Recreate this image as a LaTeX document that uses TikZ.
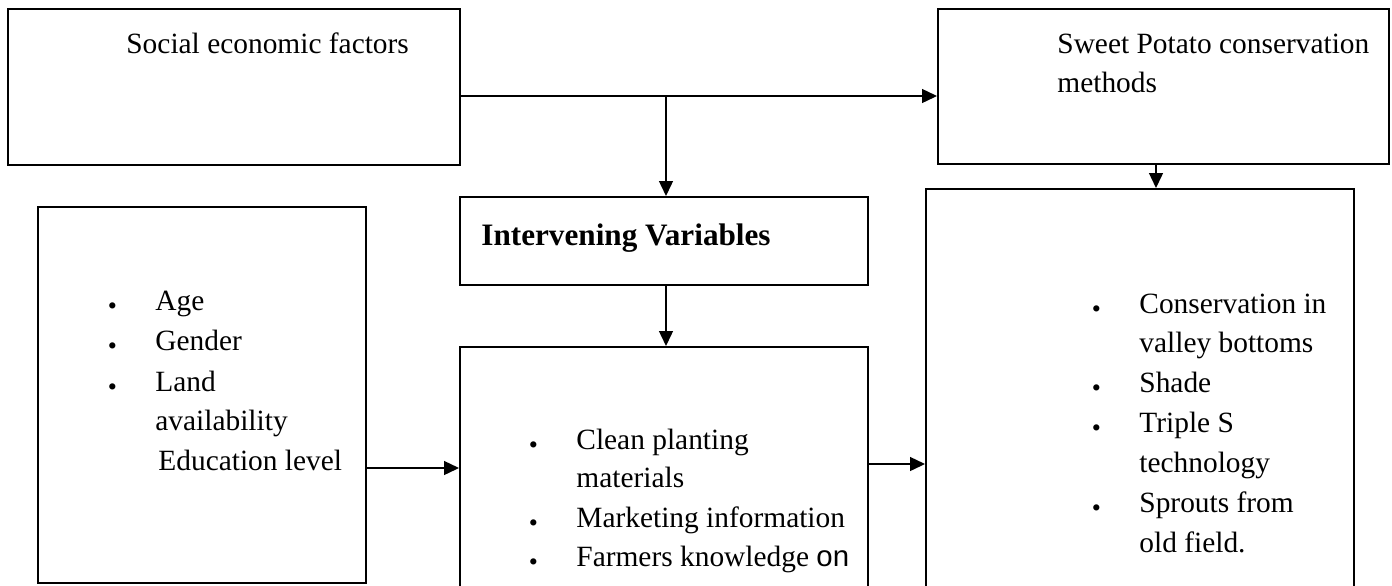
\documentclass[tikz,border=0pt]{standalone}
\usepackage{fontspec}
\setmainfont{Liberation Serif}
\newfontfamily\sansfont{Liberation Sans}
\usetikzlibrary{arrows.meta, positioning}

\newcommand{\bul}{\llap{\raisebox{-2pt}{\fontsize{13pt}{13pt}\selectfont\textbullet}\hspace{19.2pt}}}

\tikzset{
  box/.style={draw, line width=1pt, rectangle, inner sep=0pt},
  item/.style={anchor=base west, inner sep=0pt, font=\fontsize{14.7pt}{20pt}\selectfont},
  arr/.style={-{Triangle[length=7.5pt, width=7pt]}, line width=0.7pt}
}

\begin{document}
\begin{tikzpicture}[x=0.5pt, y=-0.5pt]
  \useasboundingbox (0,0) rectangle (1392,585);
  \clip (0,0) rectangle (1392,585);

  % Boxes
  \node[box, minimum width=226pt, minimum height=78pt] (social) at (234,87) {};
  \node[box, minimum width=225.5pt, minimum height=77.5pt] (sweet) at (1163.5,86.5) {};
  \node[box, minimum width=204pt, minimum height=44pt] (inter) at (664,241) {};
  \node[box, minimum width=164pt, minimum height=188pt] (left) at (202,395) {};
  \node[box, minimum width=204pt, minimum height=124pt] (mid) at (664,471) {};
  \node[box, minimum width=214pt, minimum height=205.5pt] (right) at (1140,394.5) {};

  % Box texts
  \node[item] (socialtxt) at (126,53) {Social economic factors};
  \node[item] (sweettxt) at (1057,53) {Sweet Potato conservation};
  \node[item] (sweettxt2) at (1057,92) {methods};
  \node[item, font=\fontsize{15.6pt}{20pt}\selectfont\bfseries] (intertxt) at (481,245) {Intervening Variables};

  % Independent variables
  \node[item] (age) at (155,310) {\bul Age};
  \node[item] (gender) at (155,350) {\bul Gender};
  \node[item] (land) at (155,391) {\bul Land};
  \node[item] (land2) at (155,430) {availability};
  \node[item] (educ) at (158,470) {Education level};

  % Intervening list
  \node[item] (clean) at (576,449) {\bul Clean planting};
  \node[item] (clean2) at (576,487) {materials};
  \node[item] (market) at (576,527) {\bul Marketing information};
  \node[item] (farmer) at (576,566) {\bul Farmers knowledge {\sansfont on}};

  % Conservation methods
  \node[item] (valley) at (1139,313) {\bul Conservation in};
  \node[item] (valley2) at (1139,352) {valley bottoms};
  \node[item] (shade) at (1139,392) {\bul Shade};
  \node[item] (triple) at (1139,432) {\bul Triple S};
  \node[item] (triple2) at (1139,472) {technology};
  \node[item] (sprout) at (1139,512) {\bul Sprouts from};
  \node[item] (sprout2) at (1139,552) {old field.};

  % Connectors
  \coordinate (split) at (666,96);
  \coordinate (drop) at (1156,0);
  \coordinate (inlvl) at (0,468);
  \coordinate (outlvl) at (0,464);
  \draw[arr] (social.east |- split) -- (sweet.west |- split);
  \draw[arr] (split) -- (split |- inter.north);
  \draw[arr] (split |- inter.south) -- (split |- mid.north);
  \draw[arr] (sweet.south -| drop) -- (right.north -| drop);
  \draw[arr] (left.east |- inlvl) -- (mid.west |- inlvl);
  \draw[arr] (mid.east |- outlvl) -- (right.west |- outlvl);
\end{tikzpicture}
\end{document}
